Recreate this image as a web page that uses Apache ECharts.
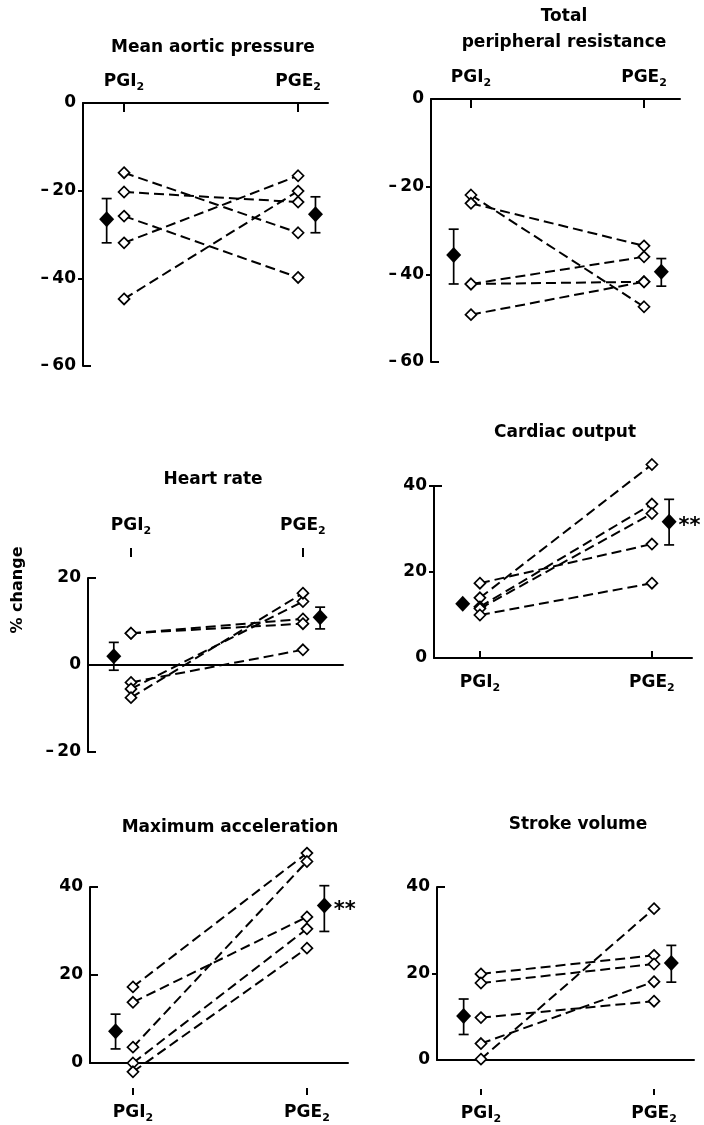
<!DOCTYPE html>
<html>
<head>
<meta charset="utf-8">
<script src="https://cdn.jsdelivr.net/npm/echarts@6/dist/echarts.min.js"></script>
<style>
html, body { margin: 0; padding: 0; background: #fff; }
#main { width: 704px; height: 1125px; }
</style>
</head>
<body>
<div id="main"></div>
<script>
// x position of each dose: PGI2 = 1, PGE2 = 2 ; means drawn just outside
var doses = ['PGI', 'PGE'];

var mapPGI = [-15.9, -20.3, -25.8, -31.9, -44.7];
var mapPGE = [-29.6, -22.6, -39.8, -16.6, -20.1];
var mapMean = [-26.5, -25.4];
var mapErr = [[-31.9, -21.8], [-29.6, -21.4]];

var tprPGI = [-21.9, -23.8, -42.2, -42.2, -49.2];
var tprPGE = [-47.4, -33.5, -36.0, -41.7, -41.7];
var tprMean = [-35.6, -39.4];
var tprErr = [[-42.2, -29.7], [-42.7, -36.4]];

var hrPGI = [7.3, 7.3, -4.0, -5.5, -7.5];
var hrPGE = [10.6, 9.5, 3.5, 14.6, 16.5];
var hrMean = [2.0, 11.0];
var hrErr = [[-1.2, 5.2], [8.3, 13.3]];

var coPGI = [17.4, 14.0, 11.9, 11.5, 10.0];
var coPGE = [26.5, 45.0, 35.8, 33.6, 17.4];
var coMean = [12.6, 31.7];
var coErr = [null, [26.3, 36.9]];

var maPGI = [17.3, 13.8, 3.6, 0.0, -2.0];
var maPGE = [47.7, 33.2, 45.8, 30.5, 26.1];
var maMean = [7.2, 35.8];
var maErr = [[3.2, 11.1], [29.9, 40.3]];

var svPGI = [19.9, 17.8, 9.8, 3.8, 0.2];
var svPGE = [24.2, 22.2, 13.6, 18.1, 35.0];
var svMean = [10.2, 22.4];
var svErr = [[5.9, 14.1], [18.0, 26.5]];

var FONT = 'DejaVu Sans';
var INK = '#000';

var panels = [{
	title: 'Mean aortic pressure', tx: 213, ty: 48,
	left: 83, top: 103, width: 245, height: 263, xmin: 0.764, xmax: 2.172,
	ymin: -60, ymax: 0, pgi: mapPGI, pge: mapPGE, mean: mapMean, err: mapErr, stars: false,
	xpos: 'top', xTickIn: true, xTickLen: 9, xMargin: 10, xOffset: 0, split: false,
	yOut: [-20, -40], yIn: [-60]
}, {
	title: 'Total\nperipheral resistance', tx: 564, ty: 30,
	left: 431, top: 99, width: 249, height: 263, xmin: 0.769, xmax: 2.208,
	ymin: -60, ymax: 0, pgi: tprPGI, pge: tprPGE, mean: tprMean, err: tprErr, stars: false,
	xpos: 'top', xTickIn: true, xTickLen: 9, xMargin: 10, xOffset: 0, split: false,
	yOut: [-20, -40], yIn: [-60]
}, {
	title: 'Heart rate', tx: 213, ty: 480,
	left: 88, top: 578, width: 255, height: 174, xmin: 0.75, xmax: 2.233,
	ymin: -20, ymax: 20, pgi: hrPGI, pge: hrPGE, mean: hrMean, err: hrErr, stars: false,
	xpos: 'top', xTickIn: false, xTickLen: 9, xMargin: 20, xOffset: 21, split: true,
	yOut: [], yIn: [20, -20]
}, {
	title: 'Cardiac output', tx: 565, ty: 433,
	left: 434, top: 486, width: 258, height: 172, xmin: 0.733, xmax: 2.233,
	ymin: 0, ymax: 40, pgi: coPGI, pge: coPGE, mean: coMean, err: coErr, stars: true,
	xpos: 'bottom', xTickIn: true, xTickLen: 7, xMargin: 14, xOffset: 0, split: false,
	yOut: [20, 40], yIn: [40]
}, {
	title: 'Maximum acceleration', tx: 230, ty: 828,
	left: 90, top: 887, width: 258, height: 176, xmin: 0.753, xmax: 2.236,
	ymin: 0, ymax: 40, pgi: maPGI, pge: maPGE, mean: maMean, err: maErr, stars: true,
	xpos: 'bottom', xTickIn: false, xTickLen: 7, xMargin: 14, xOffset: 25, split: true,
	yOut: [], yIn: [20, 40]
}, {
	title: 'Stroke volume', tx: 578, ty: 825,
	left: 437, top: 887, width: 257, height: 175, xmin: 0.746, xmax: 2.231,
	ymin: 0, ymax: 40, pgi: svPGI, pge: svPGE, mean: svMean, err: svErr, stars: false,
	xpos: 'bottom', xTickIn: false, xTickLen: 6, xMargin: 14, xOffset: 29, split: true,
	yOut: [20], yIn: [40]
}];

var lineSt = { color: INK, width: 2 };

function doseLabel(v) {
	return '{m|' + doses[Math.round(v) - 1] + '}{s|2}';
}
var doseRich = {
	m: { fontFamily: FONT, fontWeight: 'bold', fontSize: 17, color: INK, lineHeight: 22 },
	s: { fontFamily: FONT, fontWeight: 'bold', fontSize: 11, color: INK, lineHeight: 11, verticalAlign: 'bottom' }
};

function errItem(params, api) {
	var x = api.value(0);
	var a = api.coord([x, api.value(1)]);
	var b = api.coord([x, api.value(2)]);
	var w = 5;
	var st = { stroke: INK, lineWidth: 1.7 };
	return {
		type: 'group',
		children: [
			{ type: 'line', shape: { x1: a[0], y1: a[1], x2: b[0], y2: b[1] }, style: st },
			{ type: 'line', shape: { x1: a[0] - w, y1: a[1], x2: a[0] + w, y2: a[1] }, style: st },
			{ type: 'line', shape: { x1: b[0] - w, y1: b[1], x2: b[0] + w, y2: b[1] }, style: st }
		]
	};
}

var grids = [], xAxes = [], yAxes = [], series = [], graphics = [];

panels.forEach(function(p, k) {
	grids.push({ left: p.left, top: p.top, width: p.width, height: p.height });

	// axis carrying the line
	xAxes.push({
		type: 'value', gridIndex: k, min: p.xmin, max: p.xmax, position: p.xpos,
		axisLine: { show: true, onZero: p.split && k === 2, lineStyle: lineSt },
		axisTick: { show: !p.split, inside: p.xTickIn, length: p.xTickLen, customValues: [1, 2], lineStyle: lineSt },
		axisLabel: { show: !p.split, customValues: [1, 2], margin: p.xMargin, formatter: doseLabel, rich: doseRich },
		splitLine: { show: false }
	});
	// detached ticks + labels
	xAxes.push({
		type: 'value', gridIndex: k, min: p.xmin, max: p.xmax, position: p.xpos, offset: p.xOffset,
		axisLine: { show: false, onZero: false },
		axisTick: { show: p.split, inside: false, length: p.xTickLen, customValues: [1, 2], lineStyle: lineSt },
		axisLabel: { show: p.split, customValues: [1, 2], margin: p.xMargin, formatter: doseLabel, rich: doseRich },
		splitLine: { show: false }
	});

	yAxes.push({
		type: 'value', gridIndex: k, min: p.ymin, max: p.ymax, interval: 20, position: 'left',
		axisLine: { show: true, onZero: false, lineStyle: lineSt },
		axisTick: { show: p.yOut.length > 0, inside: false, length: 5, customValues: p.yOut, lineStyle: lineSt },
		axisLabel: {
			margin: 7, color: INK, fontFamily: FONT, fontWeight: 'bold', fontSize: 17,
			formatter: function(v) { return v < 0 ? '\u2013\u2009' + (-v) : String(v); }
		},
		splitLine: { show: false }
	});
	yAxes.push({
		type: 'value', gridIndex: k, min: p.ymin, max: p.ymax, interval: 20, position: 'left',
		axisLine: { show: false, onZero: false },
		axisTick: { show: true, inside: true, length: 8, customValues: p.yIn, lineStyle: lineSt },
		axisLabel: { show: false },
		splitLine: { show: false }
	});

	p.pgi.forEach(function(v, i) {
		series.push({
			type: 'line', xAxisIndex: 2 * k, yAxisIndex: 2 * k, clip: false, silent: true,
			data: [[1, v], [2, p.pge[i]]],
			symbol: 'diamond', symbolSize: [11, 11], showAllSymbol: true,
			itemStyle: { color: '#fff', borderColor: INK, borderWidth: 1.7 },
			lineStyle: { color: INK, width: 2, type: [10, 5] },
			z: 3
		});
	});

	var meanData = [[0.9, p.mean[0]], {
		value: [2.1, p.mean[1]],
		label: {
			show: p.stars, position: 'right', distance: 2, formatter: '**', offset: [0, 5],
			fontFamily: FONT, fontWeight: 'bold', fontSize: 21, color: INK
		}
	}];
	series.push({
		type: 'scatter', xAxisIndex: 2 * k, yAxisIndex: 2 * k, clip: false, silent: true,
		data: meanData, symbol: 'diamond', symbolSize: [15, 16],
		itemStyle: { color: INK, opacity: 1 }, z: 4
	});

	var errData = [];
	[0.9, 2.1].forEach(function(x, j) {
		if (p.err[j]) errData.push([x, p.err[j][0], p.err[j][1]]);
	});
	series.push({
		type: 'custom', xAxisIndex: 2 * k, yAxisIndex: 2 * k, clip: false, silent: true,
		renderItem: errItem, data: errData, encode: { x: 0, y: [1, 2] }, z: 2
	});

	graphics.push({
		type: 'text', x: p.tx, y: p.ty,
		style: {
			text: p.title, textAlign: 'center', textVerticalAlign: 'middle',
			fontFamily: FONT, fontWeight: 'bold', fontSize: 17, lineHeight: 26, fill: INK
		}
	});
});

graphics.push({
	type: 'text', x: 18, y: 590, rotation: Math.PI / 2,
	style: {
		text: '% change', textAlign: 'center', textVerticalAlign: 'middle',
		fontFamily: FONT, fontWeight: 'bold', fontSize: 16, fill: INK
	}
});

var chart = echarts.init(document.getElementById('main'));
chart.setOption({
	animation: false,
	backgroundColor: '#fff',
	grid: grids,
	xAxis: xAxes,
	yAxis: yAxes,
	series: series,
	graphic: graphics
});
</script>
</body>
</html>
